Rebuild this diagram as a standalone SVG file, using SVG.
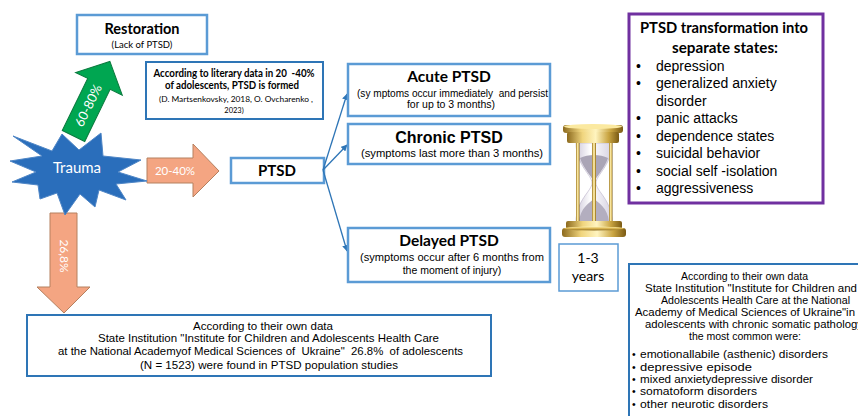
<svg xmlns="http://www.w3.org/2000/svg" width="858" height="416" viewBox="0 0 858 416">
<style>
.box{fill:#fff;stroke:#5b9bd5;stroke-width:2.5}
.dbox{fill:#fff;stroke:#2e75b6;stroke-width:2}
.cal{font-family:Lato,"Open Sans",sans-serif}
.ar{font-family:"Liberation Sans",Arial,sans-serif;fill:#000}
.b{font-weight:bold}
.m{text-anchor:middle}
.w{fill:#fff}
.conn{stroke:#2e75b6;stroke-width:1.3;fill:none}
.org{fill:#f4a582;stroke:#b5805f;stroke-width:1}
</style>
<defs>
<marker id="ah" viewBox="0 0 10 10" refX="9" refY="5" markerWidth="5" markerHeight="5" orient="auto">
<path d="M0,0 L10,5 L0,10 z" fill="#2e75b6"/>
</marker>
<linearGradient id="gold" x1="0" y1="0" x2="1" y2="0">
<stop offset="0" stop-color="#8c6a1e"/>
<stop offset="0.3" stop-color="#f0d57e"/>
<stop offset="0.55" stop-color="#fff4bf"/>
<stop offset="0.8" stop-color="#c9a441"/>
<stop offset="1" stop-color="#7a5a14"/>
</linearGradient>
<linearGradient id="goldv" x1="0" y1="0" x2="0" y2="1">
<stop offset="0" stop-color="#fff2b0"/>
<stop offset="0.5" stop-color="#d9b552"/>
<stop offset="1" stop-color="#8a6a1e"/>
</linearGradient>
<linearGradient id="glass" x1="0" y1="0" x2="1" y2="0">
<stop offset="0" stop-color="#cfcadb"/>
<stop offset="0.4" stop-color="#ffffff"/>
<stop offset="1" stop-color="#d6d2e2"/>
</linearGradient>
</defs>

<g id="restoration">
<rect class="box" x="77" y="15" width="130" height="39"/>
<text class="cal b m" x="142" y="34" font-size="14.5">Restoration</text>
<text class="cal m" x="142" y="48" font-size="9.5">(Lack of PTSD)</text>
</g>

<g id="literary">
<rect class="dbox" x="146" y="62" width="177" height="57"/>
<text class="cal b m" x="234" y="77" font-size="10.5" textLength="161" lengthAdjust="spacingAndGlyphs">According to literary data in 20&#160; -40%</text>
<text class="cal b m" x="232" y="89" font-size="10.5" textLength="134" lengthAdjust="spacingAndGlyphs">of adolescents, PTSD is formed</text>
<text class="cal m" x="236" y="102" font-size="7.5" textLength="154" lengthAdjust="spacingAndGlyphs">(D. Martsenkovsky, 2018, O. Ovcharenko ,</text>
<text class="cal m" x="234" y="113" font-size="7.5">2023)</text>
</g>

<g id="arrow-green">
<g transform="translate(73.5,136) rotate(-64)">
<polygon points="0,-12.5 58,-12.5 58,-26 83,0 58,26 58,12.5 0,12.5" fill="#00a651" stroke="#0b7a3e" stroke-width="1"/>
<text class="cal w m" x="34" y="4.5" font-size="13">60-80%</text>
</g>
</g>

<g id="arrow-right">
<polygon class="org" points="147,158 193,158 193,144 219,171 193,197 193,183 147,183"/>
<text class="cal w m" x="175" y="175" font-size="11.5">20-40%</text>
</g>

<g id="arrow-down">
<polygon class="org" points="50,213 77,213 77,287 90,287 64,313 37,287 50,287"/>
<text class="cal w m" transform="translate(64,256) rotate(90)" x="0" y="4" font-size="12">26,8%</text>
</g>

<g id="trauma">
<polygon points="10,161 42,156 13,136 52,151 62,134 79,150 101,133 103,156 141,160 118,172 147,181 116,184 126,200 99,190 95,207 80,194 65,215 57,193 40,199 38,185 12,182 36,172" fill="#2a6ebb" stroke="#4f86c6" stroke-width="1"/>
<text class="cal w m" x="77" y="173" font-size="15">Trauma</text>
</g>

<g id="ptsd">
<rect class="box" x="231" y="158" width="93" height="25"/>
<text class="cal b m" x="277" y="176" font-size="15">PTSD</text>
</g>

<g id="connectors">
<path class="conn" d="M323,170 L347,94" marker-end="url(#ah)"/>
<path class="conn" d="M323,170 L347,145" marker-end="url(#ah)"/>
<path class="conn" d="M323,170 L347,251" marker-end="url(#ah)"/>
</g>

<g id="acute">
<rect class="box" x="348" y="64" width="202" height="52"/>
<text class="cal b m" x="449" y="82" font-size="15.5">Acute PTSD</text>
<text class="ar" x="357" y="97" font-size="10.5" textLength="191" lengthAdjust="spacingAndGlyphs">(sy mptoms occur immediately&#160; and persist</text>
<text class="ar m" x="451" y="108" font-size="10.5">for up to 3 months)</text>
</g>

<g id="chronic">
<rect class="box" x="348" y="124" width="202" height="40"/>
<text class="ar b m" x="449" y="143" font-size="16">Chronic PTSD</text>
<text class="ar" x="361" y="157" font-size="11" textLength="182" lengthAdjust="spacingAndGlyphs">(symptoms last more than 3 months)</text>
</g>

<g id="delayed">
<rect class="box" x="348" y="228" width="202" height="54"/>
<text class="cal b m" x="449" y="246" font-size="15.5">Delayed PTSD</text>
<text class="ar" x="360" y="261" font-size="10.5" textLength="184" lengthAdjust="spacingAndGlyphs">(symptoms occur after 6 months from</text>
<text class="ar m" x="452" y="274" font-size="10.5">the moment of injury)</text>
</g>

<g id="hourglass">
<path d="M576,143 C576,165 592,175 592,183 C592,191 576,200 576,222 L612,222 C612,200 596,191 596,183 C596,175 612,165 612,143 Z" fill="url(#glass)" stroke="#b8b0c8" stroke-width="0.6"/>
<path d="M580,158 C584,170 592,176 594,183 C596,176 604,170 608,158 C600,154 588,154 580,158 Z" fill="#aaa5b6"/>
<path d="M579,222 C580,208 590,202 594,199 C598,202 608,208 609,222 Z" fill="#b3aebf"/>
<rect x="576" y="142" width="3.5" height="81" fill="url(#gold)"/>
<rect x="592" y="142" width="4" height="81" fill="url(#gold)"/>
<rect x="609" y="142" width="3.5" height="81" fill="url(#gold)"/>
<rect x="563" y="125" width="60" height="8" rx="3" fill="url(#gold)"/>
<ellipse cx="593" cy="126.5" rx="29" ry="2.5" fill="#fbe9a0"/>
<rect x="567" y="132" width="52" height="11" rx="2" fill="url(#gold)"/>
<rect x="566" y="221" width="56" height="8" rx="2" fill="url(#gold)"/>
<rect x="562" y="228" width="64" height="9" rx="3" fill="url(#gold)"/>
<ellipse cx="594" cy="228.5" rx="30" ry="2" fill="url(#goldv)"/>
</g>

<g id="years">
<rect x="559" y="244" width="59" height="47" fill="#fff" stroke="#5b9bd5" stroke-width="1.5"/>
<text class="cal m" x="588" y="263" font-size="14">1-3</text>
<text class="cal m" x="588" y="281" font-size="14">years</text>
</g>

<g id="transformation">
<rect x="629" y="14" width="194" height="189" fill="#fff" stroke="#7030a0" stroke-width="3"/>
<text class="cal b m" x="724" y="33" font-size="15" textLength="168" lengthAdjust="spacingAndGlyphs">PTSD transformation into</text>
<text class="cal b m" x="725" y="53" font-size="15" textLength="106" lengthAdjust="spacingAndGlyphs">separate states:</text>
<g class="ar" font-size="14">
<text x="636" y="71">•</text><text x="656" y="71">depression</text>
<text x="636" y="88">•</text><text x="656" y="88">generalized anxiety</text>
<text x="656" y="106">disorder</text>
<text x="636" y="123">•</text><text x="656" y="123">panic attacks</text>
<text x="636" y="141">•</text><text x="656" y="141">dependence states</text>
<text x="636" y="158">•</text><text x="656" y="158">suicidal behavior</text>
<text x="636" y="176">•</text><text x="656" y="176">social self -isolation</text>
<text x="636" y="193">•</text><text x="656" y="193">aggressiveness</text>
</g>
</g>

<g id="own-data-right">
<rect class="dbox" x="629" y="264" width="240" height="160"/>
<g class="ar" font-size="10.5">
<text x="681" y="280" textLength="127" lengthAdjust="spacingAndGlyphs">According to their own data</text>
<text x="645" y="292" textLength="212" lengthAdjust="spacingAndGlyphs">State Institution "Institute for Children and</text>
<text x="661" y="304" textLength="189" lengthAdjust="spacingAndGlyphs">Adolescents Health Care at the National</text>
<text x="635" y="316" textLength="220" lengthAdjust="spacingAndGlyphs">Academy of Medical Sciences of Ukraine"in</text>
<text x="645" y="328" textLength="218" lengthAdjust="spacingAndGlyphs">adolescents with chronic somatic pathology</text>
<text class="m" x="745" y="340">the most common were:</text>
<text x="632" y="358">•</text><text x="640" y="358" textLength="188" lengthAdjust="spacingAndGlyphs">emotionallabile (asthenic) disorders</text>
<text x="632" y="371">•</text><text x="640" y="371" textLength="112" lengthAdjust="spacingAndGlyphs">depressive episode</text>
<text x="632" y="383">•</text><text x="640" y="383" textLength="173" lengthAdjust="spacingAndGlyphs">mixed anxietydepressive disorder</text>
<text x="632" y="395">•</text><text x="640" y="395" textLength="117" lengthAdjust="spacingAndGlyphs">somatoform disorders</text>
<text x="632" y="408">•</text><text x="640" y="408" textLength="128" lengthAdjust="spacingAndGlyphs">other neurotic disorders</text>
</g>
</g>

<g id="own-data-left">
<rect class="dbox" x="27" y="315" width="464" height="61"/>
<g class="ar" font-size="11">
<text x="193" y="330" textLength="140" lengthAdjust="spacingAndGlyphs">According to their own data</text>
<text x="98" y="342" textLength="341" lengthAdjust="spacingAndGlyphs">State Institution "Institute for Children and Adolescents Health Care</text>
<text x="58" y="355" textLength="405" lengthAdjust="spacingAndGlyphs">at the National Academyof Medical Sciences of&#160; Ukraine"&#160; 26.8%&#160; of adolescents</text>
<text x="140" y="369" textLength="258" lengthAdjust="spacingAndGlyphs">(N = 1523) were found in PTSD population studies</text>
</g>
</g>
</svg>
